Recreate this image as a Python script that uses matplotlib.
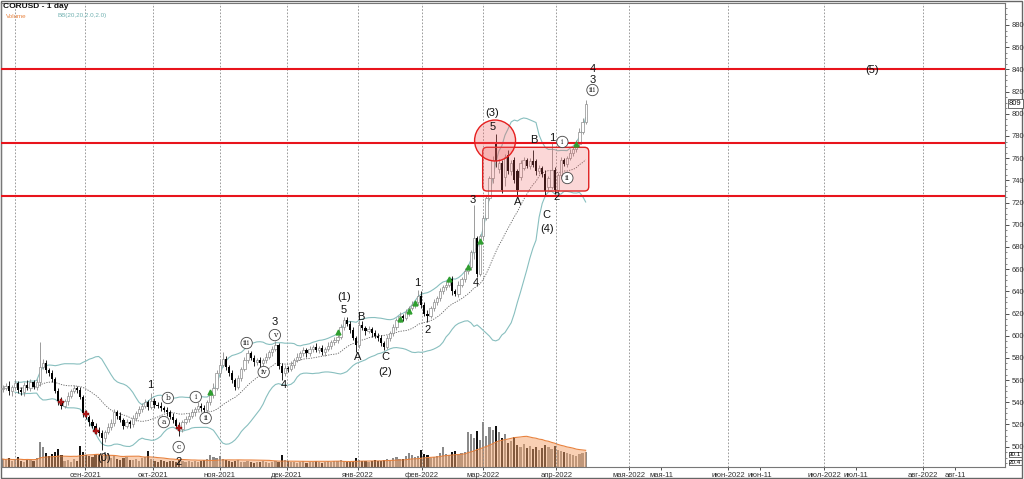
import numpy as np
import pandas as pd
import matplotlib
matplotlib.use("Agg")
import matplotlib.pyplot as plt
from matplotlib.patches import Ellipse, FancyBboxPatch, Rectangle
from matplotlib.ticker import MultipleLocator
from matplotlib.transforms import blended_transform_factory

plt.rcParams['font.family'] = ['Liberation Sans', 'DejaVu Sans']

# daily closes, 26 Jul 2021 .. 14 Apr 2022 (one value per trading day)
closes = [553, 555, 550, 554, 557, 551, 549, 556, 553, 558,
          554, 558, 572, 575, 569, 566, 561, 550, 541, 537,
          541, 546, 550, 553, 551, 545, 530, 527, 522, 519,
          514, 512, 508, 513, 518, 521, 531, 528, 524, 519,
          522, 520, 526, 530, 534, 537, 540, 536, 541, 538,
          537, 535, 533, 531, 527, 524, 519, 516, 522, 525,
          528, 531, 534, 537, 535, 533, 540, 547, 553, 566,
          574, 579, 572, 566, 560, 554, 562, 570, 578, 584,
          580, 576, 578, 575, 578, 581, 585, 588, 592, 573,
          566, 571, 570, 574, 578, 581, 584, 587, 584, 588,
          590, 587, 589, 585, 588, 591, 594, 596, 599, 608,
          614, 611, 605, 598, 592, 610, 607, 604, 606, 602,
          600, 598, 593, 590, 598, 602, 608, 614, 618, 616,
          621, 625, 628, 630, 636, 628, 620, 618, 625, 630,
          634, 640, 644, 646, 651, 640, 638, 646, 651, 658,
          662, 675, 688, 656, 690, 706, 724, 742, 758, 757,
          756, 731, 761, 748, 756, 740, 731, 756, 758, 753,
          757, 754, 748, 751, 746, 730, 742, 749, 731, 745,
          758, 755, 760, 765, 768, 773, 784, 793, 809]
first_open = 552
# days that opened away from the previous close
gap_opens = {159: 774, 160: 750, 162: 743, 163: 763, 165: 758, 166: 748,
             167: 743, 168: 751, 172: 757, 176: 734, 177: 734}

wick_up = [3, 2, 4, 2, 3, 2, 3, 2, 4, 3, 2, 3, 22, 4, 3, 2, 3, 2, 3, 4,
           2, 3, 2, 3, 2, 3, 2, 3, 2, 3, 2, 4, 3, 2, 3, 4, 3, 2, 3, 2,
           3, 2, 3, 2, 3, 2, 3, 2, 7, 3, 2, 3, 2, 3, 2, 3, 2, 3, 2, 3,
           2, 3, 2, 3, 2, 3, 2, 3, 4, 3, 4, 6, 3, 2, 3, 2, 3, 2, 3, 3,
           2, 3, 2, 3, 2, 3, 2, 3, 3, 1, 2, 3, 2, 3, 2, 3, 2, 3, 2, 3,
           2, 3, 2, 3, 2, 3, 2, 3, 2, 3, 3, 3, 2, 3, 2, 4, 3, 2, 3, 2,
           3, 2, 3, 2, 3, 2, 3, 2, 3, 2, 3, 2, 3, 2, 5, 4, 2, 3, 2, 3,
           2, 3, 2, 3, 2, 3, 2, 3, 2, 3, 3, 2, 30, 2, 2, 3, 2, 2, 4, 8,
           3, 2, 3, 4, 2, 3, 2, 2, 3, 2, 3, 10, 2, 3, 2, 3, 2, 25, 3, 2,
           3, 2, 2, 3, 2, 3, 3, 3, 3]
wick_dn = [3, 2, 3, 4, 2, 3, 2, 3, 2, 3, 2, 3, 3, 2, 3, 2, 3, 2, 3, 3,
           2, 3, 2, 2, 3, 2, 3, 2, 3, 2, 3, 2, 11, 4, 2, 3, 2, 3, 2, 3,
           2, 3, 2, 3, 2, 3, 2, 3, 2, 3, 2, 3, 2, 3, 2, 3, 2, 6, 3, 2,
           3, 2, 3, 2, 3, 2, 3, 2, 3, 2, 3, 2, 3, 2, 3, 3, 2, 3, 2, 3,
           2, 3, 2, 3, 2, 3, 2, 3, 2, 3, 6, 2, 3, 2, 3, 2, 3, 2, 3, 2,
           3, 2, 3, 2, 3, 2, 3, 2, 3, 2, 3, 2, 3, 2, 7, 3, 2, 3, 2, 3,
           2, 3, 2, 3, 2, 3, 2, 3, 2, 3, 2, 3, 2, 3, 2, 3, 2, 6, 2, 3,
           2, 3, 2, 3, 2, 3, 2, 3, 2, 3, 2, 3, 6, 3, 2, 3, 2, 2, 4, 5,
           3, 2, 8, 2, 3, 2, 4, 3, 2, 2, 3, 2, 3, 2, 3, 3, 3, 2, 3, 2,
           3, 2, 3, 2, 3, 2, 3, 2, 2]
volume = [16, 14, 18, 12, 15, 20, 13, 11, 17, 14, 12, 19,
          50, 40, 28, 22, 26, 30, 36, 24,
          12, 14, 10, 16, 13, 42, 30,
          24, 22, 20, 26, 24, 22, 30, 28, 18, 22, 16, 14, 18, 20, 15,
          14, 16, 12, 18, 20, 32, 16, 12, 10, 14, 12, 11, 13, 12, 10,
          14, 12, 10, 12, 11, 13, 10, 12, 14, 16, 24, 20, 18, 22,
          16, 14, 12, 10, 12, 14, 11, 10, 12, 10, 9, 11, 10, 12, 10, 9, 11, 12, 10, 24,
          14, 12, 10, 11, 9, 10, 12, 9, 11, 10, 12, 11, 9, 10, 12, 11, 13, 12, 14, 12, 10, 11, 13, 18,
          14, 12, 13, 11, 12, 14, 13, 12, 15, 16, 14, 18, 20, 17, 16, 22, 28, 24, 20, 22, 34, 26, 24, 18, 20, 22,
          28, 40, 26, 24, 30, 32, 26, 28, 30, 70, 66, 58, 72, 54, 90, 62, 80, 74,
          82, 70, 58, 66, 48, 52, 60, 44, 40, 46, 38, 42, 36, 40, 34, 38, 44, 40, 36, 42,
          34, 32, 30, 28, 26, 24, 22, 26, 28, 30]
last_vol_tag = "30.1"
vol_ma_tag = "20.4"

# x axis (trading-day slots, calendar days after the data ends)
tick_labels = ["сен-2021", "окт-2021", "ноя-2021", "дек-2021", "янв-2022", "фев-2022",
               "мар-2022", "апр-2022", "мая-2022", "мая-11", "июн-2022", "июн-11",
               "июл-2022", "июл-11", "авг-2022", "авг-11"]
tick_slots = [26.6, 48.5, 70.1, 91.6, 114.5, 135.1, 154.8, 178.6, 202.1, 212.4,
              234.0, 244.3, 264.9, 275.2, 296.8, 307.1]
grid_slots = [4.0, 26.6, 48.5, 70.1, 91.6, 114.5, 135.1, 154.8, 178.6, 202.1,
              234.0, 264.9, 296.8]

levels = [840, 773.5, 726]

wave_text = ["(0)", "1", "2", "3", "4", "5", "(1)", "A", "B", "C", "(2)", "1", "2", "3", "4",
             "5", "(3)", "A", "B", "C", "(4)", "1", "2", "3", "4", "(5)"]
wave_slot = [32.7, 47.5, 56.8, 87.8, 90.7, 110.0, 110.0, 114.5, 115.5, 123.5, 123.5, 133.8,
             137.0, 151.5, 152.5, 158.0, 158.0, 166.0, 171.2, 175.4, 175.4, 177.3, 178.6,
             190.2, 190.2, 280.4]
wave_price = [489.8, 555.6, 486.6, 612.4, 555.6, 623.2, 634.9, 580.8, 616.9, 580.8, 567.3, 647.5,
              605.1, 722.3, 647.5, 788.1, 800.7, 720.5, 776.4, 708.8, 696.2, 778.2, 725.0,
              830.4, 840.3, 839.4]

circ_text = ["a", "b", "c", "i", "ii", "iii", "iv", "v", "i", "ii", "iii"]
circ_slot = [52.0, 53.3, 56.8, 62.3, 65.5, 78.7, 84.2, 87.8, 180.5, 182.1, 190.2]
circ_price = [522.2, 543.9, 499.7, 544.8, 525.8, 593.4, 567.3, 600.6, 774.6, 742.1, 821.4]

red_idx = [19, 27, 30, 57]
red_price = [540.3, 529.5, 514.1, 516.8]
green_idx = [67, 108, 128, 131, 133, 144, 150, 154, 185]
green_price = [549.3, 603.3, 615.1, 622.3, 629.5, 651.1, 662.0, 685.4, 772.8]

# ---- build OHLC
c = np.array(closes, dtype=float)
o = np.concatenate([[first_open], c[:-1]])
for k, v in gap_opens.items():
    o[k] = v
hi = np.maximum(o, c) + np.array(wick_up)
lo = np.minimum(o, c) - np.array(wick_dn)
x = np.arange(len(c))
up = c >= o

s = pd.Series(c)
mid = s.rolling(20, min_periods=5).mean()
sd = s.rolling(20, min_periods=5).std(ddof=0)
bb_up = mid + 2 * sd
bb_dn = mid - 2 * sd

vol = np.array(volume, dtype=float)
vol_ma = pd.Series(vol).rolling(20, min_periods=1).mean()

fig = plt.figure(figsize=(10.24, 4.79), dpi=100)
ax = fig.add_axes([0.001, 0.02505, 0.98045, 0.96865])
ax2 = ax.twinx()
ax.set_zorder(ax2.get_zorder() + 1)
ax.patch.set_visible(False)

# volume
ax2.bar(x[up], vol[up], width=0.7, color='#8a8a8a', lw=0)
ax2.bar(x[~up], vol[~up], width=0.7, color='#111111', lw=0)
ax2.fill_between(x, 0, vol_ma, color='#f4a26a', alpha=0.5, lw=0)
ax2.plot(x, vol_ma, color='#e8823e', lw=0.8)
ax2.set_ylim(0, 930)
ax2.set_yticks([])
for sp in ax2.spines.values():
    sp.set_visible(False)

# grid
for g in grid_slots:
    ax.axvline(g, color='#8c8c8c', lw=0.6, ls=(0, (2, 2)), zorder=1)

# bollinger
ax.plot(x, bb_up, color='#88bfbf', lw=0.8, zorder=2)
ax.plot(x, bb_dn, color='#88bfbf', lw=0.8, zorder=2)
ax.plot(x, mid, color='#606060', lw=0.6, ls=(0, (1.5, 1.5)), zorder=2)

# candles
ax.vlines(x[up], lo[up], hi[up], color='#8c8c8c', lw=0.6, zorder=3)
ax.vlines(x[~up], lo[~up], hi[~up], color='black', lw=0.6, zorder=3)
ax.bar(x[up], (c - o)[up], bottom=o[up], width=0.72, facecolor='white',
       edgecolor='#8c8c8c', lw=0.5, zorder=4)
ax.bar(x[~up], (c - o)[~up], bottom=o[~up], width=0.72, color='black', lw=0, zorder=4)

# signals
ax.plot(red_idx, red_price, ls='none', marker='P', ms=4, color='#b01818', mec='#7a0000',
        mew=0.3, zorder=6)
ax.plot(green_idx, green_price, ls='none', marker='^', ms=3.5, color='#2f9e2f', zorder=6)

# levels and zones
for lv in levels:
    ax.axhline(lv, color='#e8141c', lw=1.5, zorder=5)
box = FancyBboxPatch((154.8, 730.4), 34.2, 39.4,
                     boxstyle="round,pad=0,rounding_size=1.4", mutation_aspect=2.8,
                     facecolor=(0.94, 0.38, 0.38, 0.25), edgecolor=(0.88, 0.12, 0.12, 1),
                     lw=1, zorder=5)
ax.add_patch(box)
ax.add_patch(Ellipse((158.8, 775.9), 13.2, 36.9, facecolor=(0.94, 0.38, 0.38, 0.3),
                     edgecolor=(0.9, 0.12, 0.12, 1), lw=1, zorder=5))

# wave labels
for t, xs, yp in zip(wave_text, wave_slot, wave_price):
    ax.text(xs, yp, t, fontsize=8, ha='center', va='center', color='#111', zorder=7)
for t, xs, yp in zip(circ_text, circ_slot, circ_price):
    ax.text(xs, yp, t, fontsize=5.5, ha='center', va='center', color='#222', zorder=7,
            family='DejaVu Serif',
            bbox=dict(boxstyle='circle,pad=0.22', fc='white', ec='#444', lw=0.6))

# axes
ax.set_xlim(-0.48, 323.2)
ax.set_ylim(481.7, 899.8)
ax.yaxis.tick_right()
ax.set_yticks(range(500, 881, 20))
ax.yaxis.set_minor_locator(MultipleLocator(5))
ax.tick_params(axis='y', which='major', labelsize=5.5, length=3, width=0.6,
               colors='#333', pad=1.5)
ax.tick_params(axis='y', which='minor', length=1.5, width=0.5, colors='#555')
ax.set_xticks(tick_slots)
ax.set_xticklabels(tick_labels)
ax.tick_params(axis='x', labelsize=5.5, length=2.5, width=0.6, colors='#333', pad=1)
for name, sp in ax.spines.items():
    sp.set_color('#777')
    sp.set_linewidth(0.8)

tr = blended_transform_factory(ax.transAxes, ax.transData)
ax.text(1.004, closes[-1], f"{closes[-1]}", transform=tr, fontsize=5.5, va='center',
        ha='left', color='#111', zorder=8,
        bbox=dict(boxstyle='square,pad=0.12', fc='white', ec='#333', lw=0.5))
tr2 = blended_transform_factory(ax2.transAxes, ax2.transData)
ax2.text(1.004, 25, last_vol_tag, transform=tr2, fontsize=4.5, va='center', ha='left',
         bbox=dict(boxstyle='square,pad=0.06', fc='white', ec='#333', lw=0.5))
ax2.text(1.004, 9, vol_ma_tag, transform=tr2, fontsize=4.5, va='center', ha='left',
         bbox=dict(boxstyle='square,pad=0.06', fc='white', ec='#333', lw=0.5))

fig.text(3 / 1024, 1 - 6 / 479, "CORUSD - 1 day", fontsize=6, fontweight='bold',
         va='center', ha='left', color='#111')
fig.text(6 / 1024, 1 - 16 / 479, "Volume", fontsize=4.5, va='center', ha='left',
         color='#e8823e')
fig.text(58 / 1024, 1 - 16 / 479, "BB(20,20,2.0,2.0)", fontsize=4.5, va='center',
         ha='left', color='#6fb0b0')
fig.add_artist(Rectangle((0.0005, 0.002), 1021 / 1024, 0.996, transform=fig.transFigure,
                         fill=False, ec='#666', lw=1))

fig.savefig("out.png", dpi=100)
